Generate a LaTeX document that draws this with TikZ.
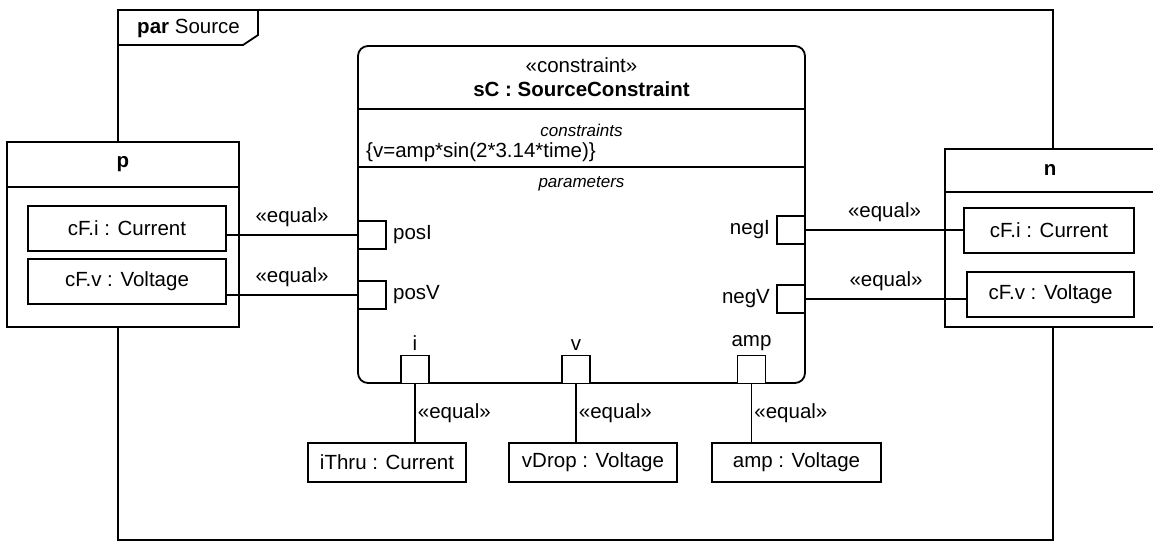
\documentclass[tikz,border=0pt]{standalone}
\usepackage{fontspec}
\setmainfont{Liberation Sans}
\usetikzlibrary{positioning}

\begin{document}
\begin{tikzpicture}[
	x=1pt, y=-1pt,
	line width=1.8pt,
	every node/.style={font=\fontsize{20.5}{24}\selectfont},
	block/.style={draw, fill=white, inner sep=0pt},
	port/.style={draw, fill=white, minimum size=28, inner sep=0pt},
	compart/.style={font=\fontsize{17}{20}\selectfont\itshape},
	eqlabel/.style={inner sep=2pt}
	]
	
	\useasboundingbox (0,0) rectangle (1153,542);
	
	% diagram frame
	\draw (118,10) rectangle (1053,540);
	\draw (118,45) -- (243,45) -- (258,35) -- (258,10);
	\node[anchor=west] (frame) at (133,28) {\textbf{par} Source};
	
	% constraint block
	\node[block, rounded corners=10pt, minimum width=447, minimum height=337] (sC) at (581.5,214.5) {};
	\draw (sC.west |- 0,109) -- (sC.east |- 0,109);
	\draw (sC.west |- 0,167) -- (sC.east |- 0,167);
	\node (stereo) at (581.5,65) {«constraint»};
	\node (sCname) at (581.5,89) {\textbf{sC : SourceConstraint}};
	\node[compart] (cstr) at (581.5,130) {constraints};
	\node[anchor=west] (cexpr) at (362,152) {\{v=amp*sin(2*3.14*time)\}};
	\node[compart] (params) at (581.5,184) {parameters};
	
	% ports
	\node[port] (posI) at (372,235) {};
	\node[port] (posV) at (372,295) {};
	\node[port] (negI) at (791,230) {};
	\node[port] (negV) at (791,299) {};
	\node[port] (pi) at (415,369.5) {};
	\node[port] (pv) at (576,369.5) {};
	\node[port] (pamp) at (751.5,369.5) {};
	\node[right=2pt of posI] (posIname) {posI};
	\node[right=2pt of posV] (posVname) {posV};
	\node[left=2pt of negI] (negIname) {negI};
	\node[left=2pt of negV] (negVname) {negV};
	\node[above=0pt of pi] (piname) {i};
	\node[above=0pt of pv] (pvname) {v};
	\node[above=0pt of pamp] (pampname) {amp};
	
	% p
	\node[block, minimum width=232, minimum height=185] (p) at (123,234.5) {};
	\draw (p.west |- 0,187) -- (p.east |- 0,187);
	\node (pname) at (123,164) {\textbf{p}};
	\node[block, minimum width=198, minimum height=45] (pcFi) at (127,228.5) {cF.i : Current};
	\node[block, minimum width=198, minimum height=45] (pcFv) at (127,281.5) {cF.v : Voltage};
	
	% n
	\node[block, minimum width=220, minimum height=178] (n) at (1055,238) {};
	\draw (n.west |- 0,192) -- (n.east |- 0,192);
	\node (nname) at (1050,170) {\textbf{n}};
	\node[block, minimum width=170, minimum height=45] (ncFi) at (1049,230.5) {cF.i : Current};
	\node[block, minimum width=167, minimum height=45] (ncFv) at (1050.5,294.5) {cF.v : Voltage};
	
	% value properties
	\node[block, minimum width=158, minimum height=39] (iThru) at (387,462.5) {iThru : Current};
	\node[block, minimum width=168, minimum height=39] (vDrop) at (593,462.5) {vDrop : Voltage};
	\node[block, minimum width=169, minimum height=39] (ampV) at (796.5,462.5) {amp : Voltage};
	
	% binding connectors
	\draw (pcFi.east |- posI.west) -- (posI.west) node[midway, above=5pt, eqlabel] (eq1) {«equal»};
	\draw (pcFv.east |- posV.west) -- (posV.west) node[midway, above=5pt, eqlabel] (eq2) {«equal»};
	\draw (negI.east) -- (negI.east -| ncFi.west) node[midway, above=5pt, eqlabel] (eq3) {«equal»};
	\draw (negV.east) -- (negV.east -| ncFv.west) node[midway, above=5pt, eqlabel] (eq4) {«equal»};
	\draw (pi.south) -- (pi.south |- iThru.north) node[midway, right, eqlabel] (eq5) {«equal»};
	\draw (pv.south) -- (pv.south |- vDrop.north) node[midway, right, eqlabel] (eq6) {«equal»};
	\draw (pamp.south) -- (pamp.south |- ampV.north) node[midway, right, eqlabel] (eq7) {«equal»};
	
\end{tikzpicture}
\end{document}
